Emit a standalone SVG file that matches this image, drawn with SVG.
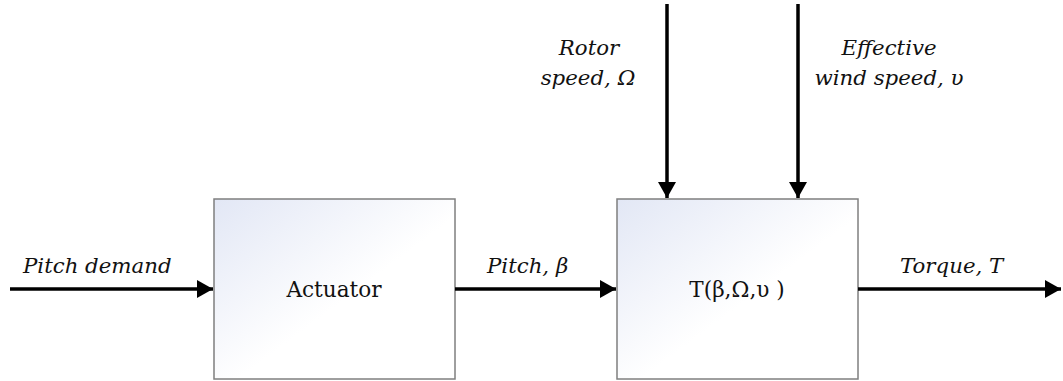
<svg xmlns="http://www.w3.org/2000/svg" width="1063" height="381" viewBox="0 0 1063 381">
<style>
.box{stroke:#7f7f7f;stroke-width:1.5;fill:url(#g)}
.lbl{font-family:"DejaVu Serif","Liberation Serif",serif;font-style:italic;font-size:21.3px;fill:#111}
.mid{text-anchor:middle}
.name{font-family:"DejaVu Serif","Liberation Serif",serif;font-size:21.6px;fill:#111;text-anchor:middle}
.wire{stroke:#000;stroke-width:3.5;fill:none;marker-end:url(#ah)}
</style>
<defs>
<linearGradient id="g" x1="0" y1="0" x2="1" y2="1">
<stop offset="0" stop-color="#e2e7f5"/>
<stop offset="0.55" stop-color="#ffffff"/>
<stop offset="1" stop-color="#ffffff"/>
</linearGradient>
<marker id="ah" markerUnits="userSpaceOnUse" markerWidth="16" markerHeight="18" viewBox="0 0 16 18" refX="16" refY="9" orient="auto">
<path d="M0,0 L16,9 L0,18 Z" fill="#000"/>
</marker>
</defs>
<g id="actuator">
<rect class="box" x="214" y="199" width="241" height="180"/>
<text class="name" x="334" y="297">Actuator</text>
</g>
<g id="torque-block">
<rect class="box" x="617" y="199" width="241" height="180"/>
<text class="name" x="737" y="297">T(β,Ω,υ )</text>
</g>
<g id="connectors">
<line class="wire" x1="10" y1="289" x2="213" y2="289"/>
<line class="wire" x1="455" y1="289" x2="616" y2="289"/>
<line class="wire" x1="858" y1="289" x2="1061" y2="289"/>
<line class="wire" x1="667" y1="4" x2="667" y2="198"/>
<line class="wire" x1="798" y1="4" x2="798" y2="198"/>
</g>
<g id="labels">
<text class="lbl" x="23" y="273">Pitch demand</text>
<text class="lbl" x="487" y="273">Pitch, β</text>
<text class="lbl" x="900" y="273">Torque, T</text>
<text class="lbl mid" x="589" y="55">Rotor</text>
<text class="lbl mid" x="588" y="85">speed, Ω</text>
<text class="lbl mid" x="889" y="55">Effective</text>
<text class="lbl mid" x="889" y="85">wind speed, υ</text>
</g>
</svg>
